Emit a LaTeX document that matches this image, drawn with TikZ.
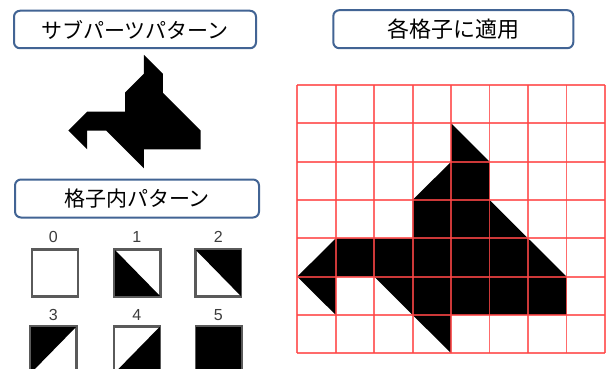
\documentclass[tikz,border=0pt]{standalone}
\usepackage{fontspec}
\newfontfamily\jpfont{Noto Sans CJK JP}
\newfontfamily\numfont{Liberation Sans}
\definecolor{boxblue}{RGB}{66,100,148}
\definecolor{gridred}{RGB}{255,70,70}
\definecolor{sqgray}{RGB}{90,90,90}
\definecolor{numgray}{RGB}{60,60,60}
\tikzset{
  titlebox/.style={draw=boxblue, line width=2pt, rounded corners=6pt, fill=white,
    inner sep=0pt, font=\jpfont\fontsize{21}{21}\selectfont},
  patsq/.style={draw=sqgray, line width=1.6pt, minimum width=45pt, minimum height=46pt, inner sep=0pt},
  patnum/.style={font=\numfont\fontsize{16}{16}\selectfont, text=numgray, inner sep=0pt},
  gridline/.style={gridred, line width=1.7pt, opacity=0.8},
  fishshape/.pic={
    \fill[black] (4,1) -- (5,2) -- (5,3) -- (7,5) -- (7,6) -- (4,6) -- (4,7) -- (2,5) -- (1,5)
      -- (1,6) -- (0,5) -- (1,4) -- (3,4) -- (3,3) -- (4,2) -- cycle;
  }
}
\begin{document}
\begin{tikzpicture}[x=1pt,y=-1pt]
\useasboundingbox[fill=white] (0,0) rectangle (608,369);

% title boxes
\node[titlebox, minimum width=242pt, minimum height=37.5pt] (tsub) at (135,29.5) {サブパーツパターン};
\node[titlebox, minimum width=244pt, minimum height=38pt] (tpat) at (137,198.5) {格子内パターン};
\node[titlebox, minimum width=240pt, minimum height=38pt] (tapp) at (453.3,29.2) {\fontsize{22}{22}\selectfont 各格子に適用};

% sub part pattern
\begin{scope}[shift={(68.3,36)}, x=18.9pt, y=-18.9pt]
  \pic (sub) at (0,0) {fishshape};
\end{scope}

% applied grid
\begin{scope}[shift={(297.3,85)}, x=38.46pt, y=-38.33pt]
  \pic (big) at (0,0) {fishshape};
  \foreach \i in {0,...,8} {
    \draw[gridline] (\i,0) -- (\i,7);
  }
  \foreach \j in {0,...,7} {
    \draw[gridline] (0,\j) -- (8,\j);
  }
\end{scope}

% pattern squares
\node[patsq] (p0) at (55,273) {};
\node[patsq] (p1) at (137.5,273) {};
\node[patsq] (p2) at (218.3,273) {};
\node[patsq] (p3) at (53.5,350) {};
\node[patsq] (p4) at (137,350) {};
\node[patsq] (p5) at (218.7,350) {};

\fill[black] (p1.north west) -- (p1.south east) -- (p1.south west) -- cycle;
\fill[black] (p2.north west) -- (p2.north east) -- (p2.south east) -- cycle;
\fill[black] (p3.north west) -- (p3.north east) -- (p3.south west) -- cycle;
\fill[black] (p4.north east) -- (p4.south east) -- (p4.south west) -- cycle;
\fill[black] (p5.north west) rectangle (p5.south east);
\foreach \n in {p0,p1,p2,p3,p4,p5} {
  \draw[sqgray, line width=1.6pt] (\n.north west) rectangle (\n.south east);
}

\node[patnum] (n0) at (53.3,237) {0};
\node[patnum] (n1) at (136.7,237) {1};
\node[patnum] (n2) at (218.3,237) {2};
\node[patnum] (n3) at (53.3,315) {3};
\node[patnum] (n4) at (136.7,315) {4};
\node[patnum] (n5) at (218.3,315) {5};
\end{tikzpicture}
\end{document}
